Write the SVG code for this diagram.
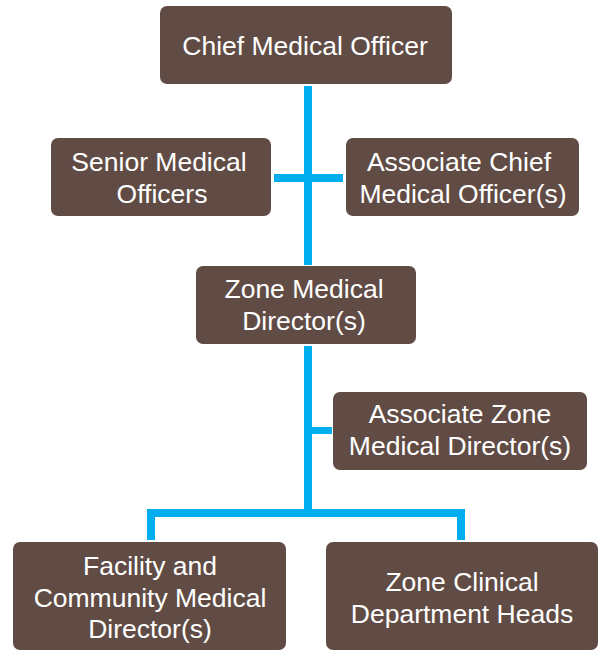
<svg xmlns="http://www.w3.org/2000/svg" width="599" height="651" viewBox="0 0 599 651">
<style>
.box{fill:#614C45;}
.t{font-family:"Liberation Sans","Helvetica Neue",Arial,sans-serif;font-size:26.5px;fill:#FFFFFF;text-anchor:middle;}
.c{fill:#00AEEF;}
</style>
<rect width="599" height="651" fill="#FFFFFF"/>
<g id="connectors">
<rect class="c" x="304" y="86" width="8" height="179"/>
<rect class="c" x="274" y="174" width="69" height="8"/>
<rect class="c" x="304" y="346" width="8" height="171"/>
<rect class="c" x="308" y="427" width="24" height="7"/>
<rect class="c" x="147" y="509" width="318" height="8"/>
<rect class="c" x="147" y="509" width="8" height="31"/>
<rect class="c" x="457" y="509" width="8" height="31"/>
</g>
<g id="chief">
<rect class="box" x="160" y="6" width="292" height="78" rx="7"/>
<text class="t" x="305" y="55">Chief Medical Officer</text>
</g>
<g id="senior">
<rect class="box" x="51" y="138" width="220" height="78" rx="7"/>
<text class="t" x="159" y="171">Senior Medical</text>
<text class="t" x="162" y="203">Officers</text>
</g>
<g id="assoc-chief">
<rect class="box" x="346" y="138" width="233" height="78" rx="7"/>
<text class="t" x="459" y="171">Associate Chief</text>
<text class="t" x="463" y="203">Medical Officer(s)</text>
</g>
<g id="zone-md">
<rect class="box" x="196" y="266" width="220" height="78" rx="7"/>
<text class="t" x="304" y="298">Zone Medical</text>
<text class="t" x="304" y="330">Director(s)</text>
</g>
<g id="assoc-zone">
<rect class="box" x="333" y="392" width="254" height="78" rx="7"/>
<text class="t" x="460" y="423">Associate Zone</text>
<text class="t" x="460" y="455">Medical Director(s)</text>
</g>
<g id="facility">
<rect class="box" x="13" y="542" width="273" height="108" rx="7"/>
<text class="t" x="150" y="575">Facility and</text>
<text class="t" x="150" y="607">Community Medical</text>
<text class="t" x="150" y="638">Director(s)</text>
</g>
<g id="dept-heads">
<rect class="box" x="326" y="542" width="272" height="108" rx="7"/>
<text class="t" x="462" y="591">Zone Clinical</text>
<text class="t" x="462" y="623">Department Heads</text>
</g>
</svg>
